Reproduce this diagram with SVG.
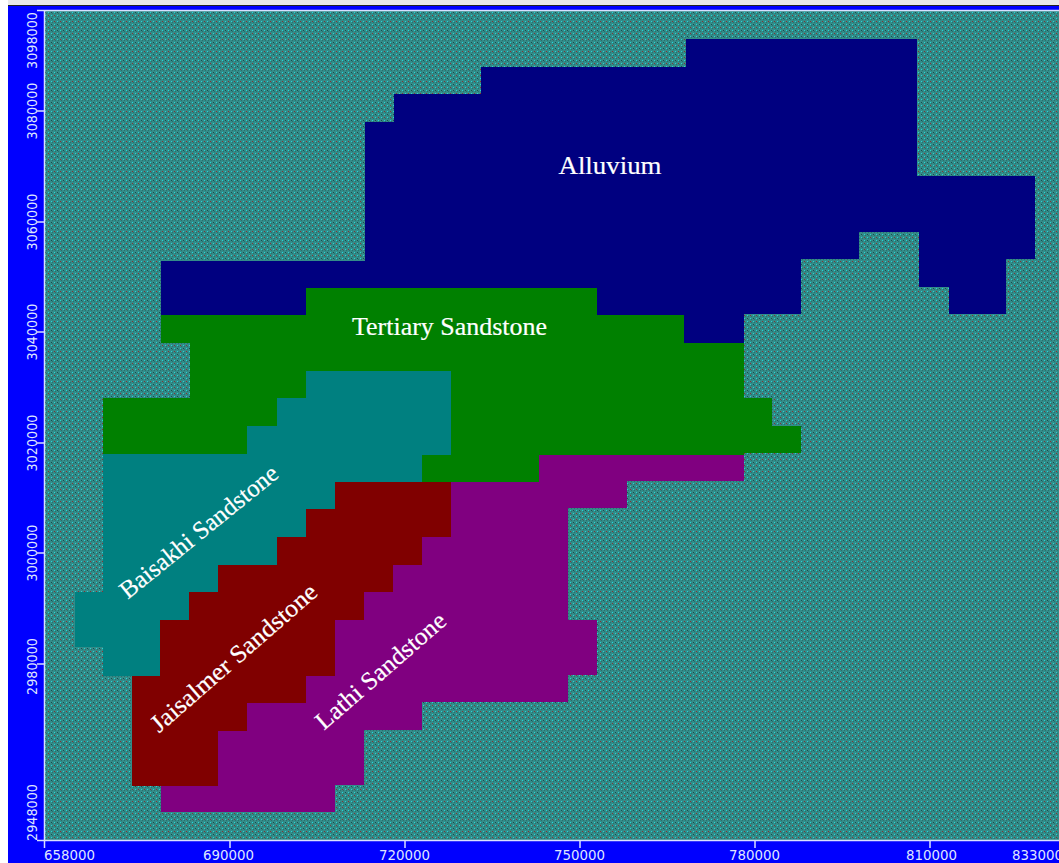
<svg xmlns="http://www.w3.org/2000/svg" width="1059" height="863" viewBox="0 0 1059 863">
<style>
.ax{font-family:"DejaVu Sans",sans-serif;font-size:14.500px;fill:#dfe6ff}
.lb{font-family:"Liberation Serif",serif;fill:#fff;text-anchor:middle;stroke:#fff;stroke-width:.2}
.ln{stroke:#d8e0ff;stroke-width:1.5;fill:none}
</style>
<defs>
<pattern id="dither" width="6" height="6" patternUnits="userSpaceOnUse">
<rect width="6" height="6" fill="#338c89"/>
<rect x="0" y="0" width="1" height="1" fill="#25d8d8"/>
<rect x="3" y="0" width="1" height="1" fill="#1d4a4a"/>
<rect x="0" y="3" width="1" height="1" fill="#8a3030"/>
<rect x="3" y="3" width="1" height="1" fill="#25d8d8"/>
<rect x="1" y="1" width="1" height="1" fill="#2a6f6d"/>
<rect x="4" y="1" width="1" height="1" fill="#2a6f6d"/>
<rect x="1" y="4" width="1" height="1" fill="#2a6f6d"/>
<rect x="4" y="4" width="1" height="1" fill="#2a6f6d"/>
</pattern>
</defs>
<rect width="1059" height="863" fill="#fff"/>
<rect x="8" y="0" width="1051" height="5" fill="#e8e8e8"/>
<rect x="8" y="5" width="1051" height="1.500" fill="#222"/>
<rect x="8" y="6" width="1051" height="857" fill="#0000ff"/>
<rect x="45" y="11" width="1014" height="829" fill="url(#dither)"/>
<g id="alluvium"><polygon fill="#000080" points="161,261 365,261 365,122 394,122 394,94 481,94 481,67 686,67 686,39 917,39 917,176 1035,176 1035,259 1006,259 1006,314 949,314 949,287 919,287 919,232 859,232 859,259 801,259 801,314 744,314 744,343 684,343 684,315 597,315 597,288 306,288 306,315 161,315"/><text class="lb" x="610" y="174" font-size="26" textLength="103" lengthAdjust="spacingAndGlyphs">Alluvium</text></g>
<g id="tertiary"><polygon fill="#008000" points="161,315 306,315 306,288 597,288 597,315 684,315 684,343 744,343 744,398 772,398 772,426 801,426 801,453 744,453 744,455 539,455 539,482 422,482 422,455 451,455 451,371 306,371 306,398 277,398 277,426 247,426 247,454 103,454 103,398 190,398 190,343 161,343"/><text class="lb" x="449.500" y="335" font-size="25" textLength="195" lengthAdjust="spacingAndGlyphs">Tertiary Sandstone</text></g>
<g id="baisakhi"><polygon fill="#008080" points="306,371 451,371 451,455 422,455 422,482 335,482 335,509 306,509 306,537 277,537 277,565 218,565 218,592 189,592 189,620 160,620 160,676 103,676 103,647 75,647 75,592 103,592 103,454 247,454 247,426 277,426 277,398 306,398"/><text class="lb" transform="translate(204,538) rotate(-39)" font-size="25" textLength="196" lengthAdjust="spacingAndGlyphs">Baisakhi Sandstone</text></g>
<g id="jaisalmer"><polygon fill="#800000" points="335,482 451,482 451,537 422,537 422,565 393,565 393,592 364,592 364,620 335,620 335,676 306,676 306,703 247,703 247,731 218,731 218,786 132,786 132,676 160,676 160,620 189,620 189,592 218,592 218,565 277,565 277,537 306,537 306,509 335,509"/><text class="lb" transform="translate(239,664) rotate(-41)" font-size="25" textLength="212" lengthAdjust="spacingAndGlyphs">Jaisalmer Sandstone</text></g>
<g id="lathi"><polygon fill="#800080" points="539,455 744,455 744,481 627,481 627,508 568,508 568,620 597,620 597,675 568,675 568,702 422,702 422,730 364,730 364,785 335,785 335,812 161,812 161,786 218,786 218,731 247,731 247,703 306,703 306,676 335,676 335,620 364,620 364,592 393,592 393,565 422,565 422,537 451,537 451,482 539,482"/><text class="lb" transform="translate(386,677) rotate(-41)" font-size="25" textLength="164" lengthAdjust="spacingAndGlyphs">Lathi Sandstone</text></g>
<g id="axes">
<path class="ln" d="M37 10.500H1059M44.500 10V848M37 840.500H1059M230 841V848M405 841V848M580 841V848M755 841V848M930 841V848M37 111H44M37 222H44M37 332H44M37 443H44M37 553H44M37 664H44"/>
<text class="ax" x="44" y="860" textLength="51" lengthAdjust="spacingAndGlyphs">658000</text>
<text class="ax" x="203" y="860" textLength="51" lengthAdjust="spacingAndGlyphs">690000</text>
<text class="ax" x="379" y="860" textLength="51" lengthAdjust="spacingAndGlyphs">720000</text>
<text class="ax" x="554" y="860" textLength="51" lengthAdjust="spacingAndGlyphs">750000</text>
<text class="ax" x="729" y="860" textLength="51" lengthAdjust="spacingAndGlyphs">780000</text>
<text class="ax" x="906" y="860" textLength="51" lengthAdjust="spacingAndGlyphs">810000</text>
<text class="ax" x="1012" y="860" textLength="51" lengthAdjust="spacingAndGlyphs">833000</text>
<text class="ax" transform="translate(37,69) rotate(-90)" textLength="57" lengthAdjust="spacingAndGlyphs">3098000</text>
<text class="ax" transform="translate(37,139.500) rotate(-90)" textLength="57" lengthAdjust="spacingAndGlyphs">3080000</text>
<text class="ax" transform="translate(37,250.500) rotate(-90)" textLength="57" lengthAdjust="spacingAndGlyphs">3060000</text>
<text class="ax" transform="translate(37,360.500) rotate(-90)" textLength="57" lengthAdjust="spacingAndGlyphs">3040000</text>
<text class="ax" transform="translate(37,471.500) rotate(-90)" textLength="57" lengthAdjust="spacingAndGlyphs">3020000</text>
<text class="ax" transform="translate(37,581.500) rotate(-90)" textLength="57" lengthAdjust="spacingAndGlyphs">3000000</text>
<text class="ax" transform="translate(37,695) rotate(-90)" textLength="57" lengthAdjust="spacingAndGlyphs">2980000</text>
<text class="ax" transform="translate(37,841) rotate(-90)" textLength="57" lengthAdjust="spacingAndGlyphs">2948000</text>
</g>
</svg>
